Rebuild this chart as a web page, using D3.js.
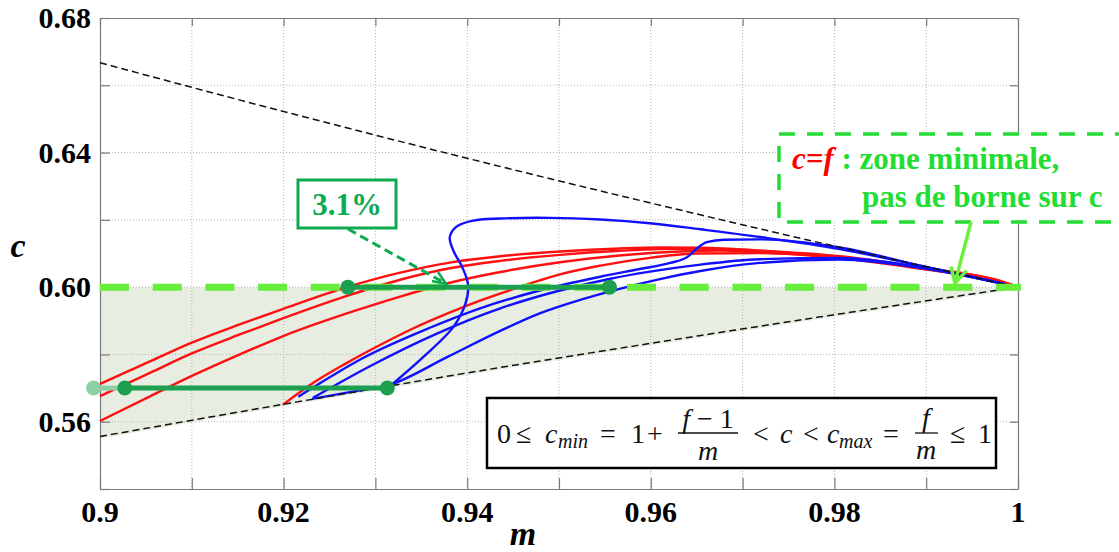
<!DOCTYPE html>
<html><head><meta charset="utf-8">
<script src="https://cdn.jsdelivr.net/npm/d3@7"></script>
<style>svg text{font-family:"Liberation Serif" !important;}</style>
</head><body style="margin:0">
<svg id="chart" width="1119" height="552" style="display:block;background:#fff"></svg>
<script>
// ---------- data ----------
const xTicks = [0.9,0.91,0.92,0.93,0.94,0.95,0.96,0.97,0.98,0.99,1.0];
const xTickLabels = ["0.9","","0.92","","0.94","","0.96","","0.98","","1"];
const yTicks = [0.54,0.56,0.58,0.60,0.62,0.64,0.66,0.68];
const yTickLabels = ["","0.56","","0.60","","0.64","","0.68"];

// bounds c_max = f/m and c_min = 1+(f-1)/m, read at a few m values
const boundM = [0.9,0.92,0.94,0.96,0.98,1.0];
const cMaxVals = [0.6667,0.6522,0.6383,0.6250,0.6122,0.6000];
const cMinVals = [0.5556,0.5652,0.5745,0.5833,0.5918,0.6000];
const cLevel = 0.60;

const red1 = [[0.9,0.5712],[0.9055,0.5780],[0.9100,0.5835],[0.9153,0.5890],[0.9199,0.5935],[0.9269,0.6000],[0.9327,0.6043],[0.9381,0.6073],[0.9436,0.6092],[0.9501,0.6106],[0.9566,0.6115],[0.9610,0.6118],[0.9654,0.6117],[0.9719,0.6109],[0.9806,0.6092],[0.9899,0.6057],[0.9980,0.6019],[0.9994,0.6006]];
const red2 = [[0.9,0.5676],[0.9055,0.5746],[0.9100,0.5803],[0.9153,0.5860],[0.9199,0.5907],[0.9269,0.5974],[0.9327,0.6022],[0.9381,0.6056],[0.9436,0.6078],[0.9501,0.6096],[0.9566,0.6108],[0.9610,0.6113],[0.9654,0.6114],[0.9719,0.6106],[0.9806,0.6090],[0.9899,0.6055],[0.9980,0.6018],[0.9994,0.6006]];
const red3 = [[0.9,0.5602],[0.9055,0.5676],[0.9100,0.5736],[0.9153,0.5801],[0.9199,0.5854],[0.9278,0.5930],[0.9327,0.5972],[0.9381,0.6013],[0.9436,0.6045],[0.9501,0.6074],[0.9566,0.6094],[0.9632,0.6106],[0.9675,0.6109],[0.9719,0.6104],[0.9806,0.6088],[0.9899,0.6054],[0.9980,0.6017],[0.9994,0.6006]];
const red4 = [[0.9199,0.5650],[0.9232,0.5715],[0.9269,0.5775],[0.9305,0.5828],[0.9341,0.5877],[0.9378,0.5921],[0.9414,0.5960],[0.9450,0.5994],[0.9479,0.6020],[0.9501,0.6038],[0.9545,0.6064],[0.9599,0.6087],[0.9650,0.6100],[0.9719,0.6101],[0.9806,0.6086],[0.9899,0.6053],[0.9980,0.6016],[0.9994,0.6006]];

const blue1 = [[0.9216,0.5674],[0.9240,0.5715],[0.9287,0.5790],[0.9360,0.5880],[0.9414,0.5937],[0.9479,0.5990],[0.9545,0.6031],[0.9588,0.6054],[0.9621,0.6072],[0.9640,0.6090],[0.9651,0.6117],[0.9661,0.6134],[0.9680,0.6141],[0.9719,0.6142],[0.9806,0.6118],[0.9899,0.6060],[0.9986,0.6009]];
const blue2 = [[0.9232,0.5671],[0.9294,0.5765],[0.9367,0.5862],[0.9436,0.5937],[0.9501,0.5990],[0.9556,0.6025],[0.9599,0.6046],[0.9654,0.6067],[0.9719,0.6083],[0.9806,0.6087],[0.9899,0.6057],[0.9986,0.6009]];
const blue3 = [[0.9231,0.5668],[0.9272,0.5688],[0.9316,0.5710],[0.9378,0.5792],[0.9436,0.5870],[0.9479,0.5922],[0.9523,0.5962],[0.9566,0.5995],[0.9610,0.6024],[0.9654,0.6048],[0.9719,0.6072],[0.9806,0.6082],[0.9899,0.6055],[0.9986,0.6008]];
const blue4 = [[0.9316,0.5706],[0.9352,0.5792],[0.9385,0.5882],[0.9398,0.5950],[0.9401,0.6006],[0.9395,0.6057],[0.9385,0.6108],[0.9381,0.6148],[0.9388,0.6179],[0.9405,0.6197],[0.9436,0.6204],[0.9490,0.6206],[0.9545,0.6201],[0.9599,0.6190],[0.9654,0.6172],[0.9719,0.6149],[0.9806,0.6113],[0.9899,0.6061],[0.9986,0.6009]];

const redCurves = [red1, red2, red3, red4];
const blueCurves = [blue1, blue2, blue3];
const blueLoop = blue4;

// green measured segments
const segTopM = [0.9270, 0.9555], segTopC = 0.60;
const segBotM = [0.9027, 0.9313], segBotC = 0.57;
const segBotFadedM = 0.8993;

const pctLabel = "3.1%";
const noteRed = "c=f";
const noteLine1 = " : zone minimale,";
const noteLine2 = "pas de borne sur c";

// ---------- drawing ----------
const svg = d3.select("#chart");
const x = d3.scaleLinear().domain([0.9,1.0]).range([100,1018]);
const y = d3.scaleLinear().domain([0.54,0.68]).range([489,18]);
function T(sel){ return sel.append("text").attr("font-family","Liberation Serif").style("font-family",'"Liberation Serif"'); }

// shaded feasible zone between c_min and c = f
const boundData = boundM.map((m,i)=>({m, lo:cMinVals[i]}));
svg.append("path").datum(boundData)
  .attr("d", d3.area().x(d=>x(d.m)).y0(d=>y(d.lo)+2).y1(()=>y(cLevel)))
  .attr("fill","#e7ede0");

// grid
const g = svg.append("g");
g.selectAll(".vg").data(xTicks.slice(1,-1)).join("line")
  .attr("x1",d=>x(d)).attr("x2",d=>x(d)).attr("y1",y(0.68)).attr("y2",y(0.54))
  .attr("stroke","#b5b5b5").attr("stroke-width",1).attr("stroke-dasharray","1,2");
g.selectAll(".hg").data(yTicks.slice(1,-1)).join("line")
  .attr("x1",x(0.9)).attr("x2",x(1.0)).attr("y1",d=>y(d)).attr("y2",d=>y(d))
  .attr("stroke","#b5b5b5").attr("stroke-width",1).attr("stroke-dasharray","1,2");

// axes (box with inward ticks), labels as own text
const axCol = "#7a7a7a";
function styleAxis(sel){
  sel.select(".domain").attr("stroke",axCol).attr("stroke-width",1.2);
  sel.selectAll(".tick line").attr("stroke",axCol).attr("stroke-width",1.2);
  sel.selectAll(".tick text").remove();
}
const xb = svg.append("g").attr("transform",`translate(0,${y(0.54)})`)
  .call(d3.axisBottom(x).tickValues(xTicks).tickSize(-11).tickSizeOuter(0));
styleAxis(xb);
const xt = svg.append("g").attr("transform",`translate(0,${y(0.68)})`)
  .call(d3.axisTop(x).tickValues(xTicks).tickSize(-8).tickSizeOuter(0));
styleAxis(xt);
const yl = svg.append("g").attr("transform",`translate(${x(0.9)},0)`)
  .call(d3.axisLeft(y).tickValues(yTicks).tickSize(-10).tickSizeOuter(0));
styleAxis(yl);
const yr = svg.append("g").attr("transform",`translate(${x(1.0)},0)`)
  .call(d3.axisRight(y).tickValues(yTicks).tickSize(-8).tickSizeOuter(0));
styleAxis(yr);

xTicks.forEach((v,i)=>{ if(xTickLabels[i]) T(svg).attr("x",x(v)).attr("y",y(0.54)+33).attr("text-anchor","middle")
  .attr("font-size",30).attr("font-weight","bold").attr("fill","#000").text(xTickLabels[i]); });
yTicks.forEach((v,i)=>{ if(yTickLabels[i]) T(svg).attr("x",x(0.9)-9).attr("y",y(v)+10).attr("text-anchor","end")
  .attr("font-size",30).attr("font-weight","bold").attr("fill","#000").text(yTickLabels[i]); });

// axis titles
T(svg).attr("x",523).attr("y",545).attr("text-anchor","middle")
  .attr("font-size",34).attr("font-weight","bold").attr("font-style","italic").text("m");
T(svg).attr("x",18).attr("y",257).attr("text-anchor","middle")
  .attr("font-size",34).attr("font-weight","bold").attr("font-style","italic").text("c");

// curves
const line = d3.line().x(d=>x(d[0])).y(d=>y(d[1])).curve(d3.curveMonotoneX);
const loopLine = d3.line().x(d=>x(d[0])).y(d=>y(d[1])).curve(d3.curveCatmullRom.alpha(0.5));
svg.append("g").selectAll("path").data(redCurves).join("path")
  .attr("d",line).attr("fill","none").attr("stroke","#ff1010").attr("stroke-width",2.4);
svg.append("g").selectAll("path").data(blueCurves).join("path")
  .attr("d",line).attr("fill","none").attr("stroke","#1010ff").attr("stroke-width",2.4);
svg.append("path").datum(blueLoop)
  .attr("d",loopLine).attr("fill","none").attr("stroke","#1010ff").attr("stroke-width",2.4);

// bound lines
const bl = d3.line().x(d=>x(d[0])).y(d=>y(d[1])).curve(d3.curveMonotoneX);
svg.append("path").datum(boundM.map((m,i)=>[m,cMaxVals[i]]))
  .attr("d",bl).attr("fill","none").attr("stroke","#111").attr("stroke-width",1.5).attr("stroke-dasharray","7,4");
svg.append("path").datum(boundM.map((m,i)=>[m,cMinVals[i]]))
  .attr("d",bl).attr("fill","none").attr("stroke","#111").attr("stroke-width",1.5).attr("stroke-dasharray","7,4");

// c = f dashed level
svg.append("line").attr("x1",x(0.9)).attr("x2",x(1.0)+3).attr("y1",y(cLevel)).attr("y2",y(cLevel))
  .attr("stroke","#66ee3a").attr("stroke-width",7).attr("stroke-dasharray","29,23.7");

// measured segments
const dg = "#1c9f4f";
svg.append("line").attr("x1",x(segBotFadedM)).attr("x2",x(segBotM[0])).attr("y1",y(segBotC)).attr("y2",y(segBotC))
  .attr("stroke","#8ccfa5").attr("stroke-width",5);
svg.append("circle").attr("cx",x(segBotFadedM)).attr("cy",y(segBotC)).attr("r",7.5).attr("fill","#8ccfa5");
[[segTopM,segTopC],[segBotM,segBotC]].forEach(([ms,c])=>{
  svg.append("line").attr("x1",x(ms[0])).attr("x2",x(ms[1])).attr("y1",y(c)).attr("y2",y(c))
    .attr("stroke",dg).attr("stroke-width",5);
  ms.forEach(m=>svg.append("circle").attr("cx",x(m)).attr("cy",y(c)).attr("r",7.5).attr("fill",dg));
});

// 3.1% box and dashed pointer
const pg = "#0daa50";
svg.append("line").attr("x1",348).attr("y1",229).attr("x2",443).attr("y2",282)
  .attr("stroke",pg).attr("stroke-width",3).attr("stroke-dasharray","9,5");
svg.append("path").attr("d","M432,281 L446,284 L438,272").attr("fill","none").attr("stroke",pg).attr("stroke-width",2.5);
svg.append("rect").attr("x",298).attr("y",180).attr("width",98).attr("height",48)
  .attr("fill","#fff").attr("stroke",pg).attr("stroke-width",3);
T(svg).attr("x",347).attr("y",215).attr("text-anchor","middle")
  .attr("font-size",31).attr("font-weight","bold").attr("fill",pg).text(pctLabel);

// right annotation box
const lg = "#22dd33";
svg.append("rect").attr("x",779).attr("y",134).attr("width",360).attr("height",88)
  .attr("fill","#fff").attr("stroke",lg).attr("stroke-width",3.5).attr("stroke-dasharray","16,12");
const t1 = T(svg).attr("x",792).attr("y",169).attr("font-size",31).attr("font-weight","bold");
t1.append("tspan").attr("fill","#ff0000").attr("font-style","italic").text(noteRed);
t1.append("tspan").attr("fill",lg).text(noteLine1);
T(svg).attr("x",862).attr("y",207)
  .attr("font-size",31).attr("font-weight","bold").attr("fill",lg).text(noteLine2);

// arrow to (1, f)
const ag = "#6cf03a";
const ax0=971, ay0=222, ax1=955, ay1=283;
svg.append("line").attr("x1",ax0).attr("y1",ay0).attr("x2",ax1).attr("y2",ay1).attr("stroke",ag).attr("stroke-width",3.5);
{
  const ang = Math.atan2(ay1-ay0, ax1-ax0), L=17, a=0.5;
  const p1=[ax1-L*Math.cos(ang-a), ay1-L*Math.sin(ang-a)], p2=[ax1-L*Math.cos(ang+a), ay1-L*Math.sin(ang+a)];
  svg.append("path").attr("d",`M${p1}L${ax1},${ay1}L${p2}`).attr("fill","none").attr("stroke",ag).attr("stroke-width",3.5);
}

// formula box
svg.append("rect").attr("x",487).attr("y",398).attr("width",509).attr("height",70)
  .attr("fill","#fff").attr("stroke","#000").attr("stroke-width",2.5);
const fs = 28, base = 443;
function tok(txt, xx, yy, opts={}){
  T(svg).attr("x",xx).attr("y",yy)
    .attr("font-size",opts.size||fs)
    .attr("font-style",opts.it?"italic":"normal")
    .attr("text-anchor",opts.anchor||"start").attr("fill","#111").text(txt);
}
tok("0",497,base); tok("≤",516,base);
tok("c",545,base,{it:true}); tok("min",558,base+5,{it:true,size:20});
tok("=",600,base); tok("1",631,base); tok("+",647,base);
T(svg).attr("x",708).attr("y",base-15).attr("text-anchor","middle").attr("font-size",fs).attr("fill","#111")
  .call(t=>{t.append("tspan").attr("font-style","italic").text("f"); t.append("tspan").text(" − 1");});
svg.append("line").attr("x1",678).attr("x2",738).attr("y1",433).attr("y2",433).attr("stroke","#111").attr("stroke-width",1.3);
tok("m",708,460,{it:true,anchor:"middle"});
tok("<",753,base); tok("c",780,base,{it:true}); tok("<",803,base);
tok("c",827,base,{it:true}); tok("max",839,base+5,{it:true,size:20});
tok("=",883,base);
tok("f",926,base-16,{it:true,anchor:"middle"});
svg.append("line").attr("x1",915).attr("x2",938).attr("y1",433).attr("y2",433).attr("stroke","#111").attr("stroke-width",1.3);
tok("m",926,459,{it:true,anchor:"middle"});
tok("≤",950,base); tok("1",978,base);
</script>
</body></html>
